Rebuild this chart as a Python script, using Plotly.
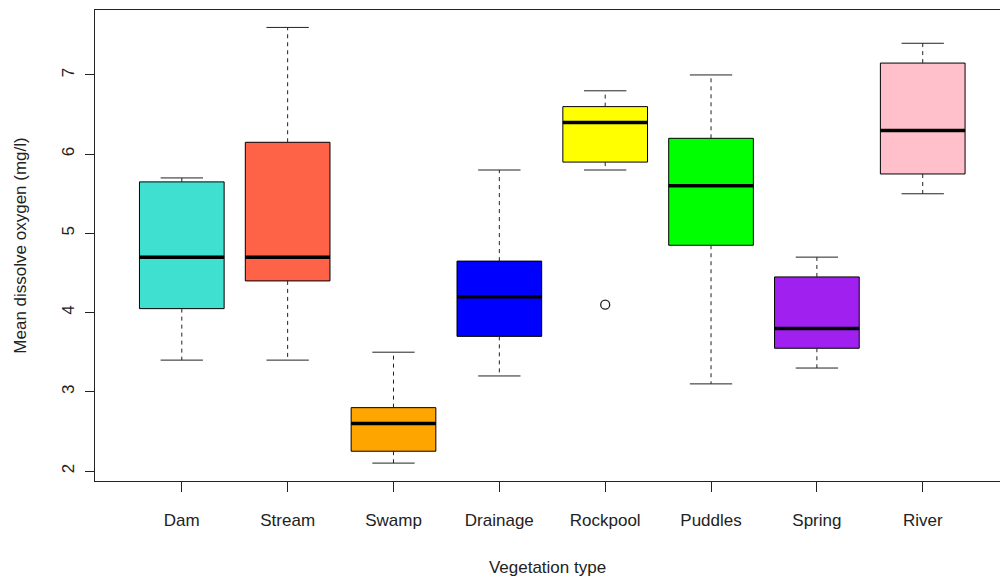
import plotly.graph_objects as go

# Summary statistics of mean dissolved oxygen (mg/l) per vegetation type
categories = ["Dam", "Stream", "Swamp", "Drainage", "Rockpool", "Puddles", "Spring", "River"]
lower_whisker = [3.4, 3.4, 2.1, 3.2, 5.8, 3.1, 3.3, 5.5]
q1_values = [4.05, 4.4, 2.25, 3.7, 5.9, 4.85, 3.55, 5.75]
medians = [4.7, 4.7, 2.6, 4.2, 6.4, 5.6, 3.8, 6.3]
q3_values = [5.65, 6.15, 2.8, 4.65, 6.6, 6.2, 4.45, 7.15]
upper_whisker = [5.7, 7.6, 3.5, 5.8, 6.8, 7.0, 4.7, 7.4]
outlier_groups = ["Rockpool"]
outlier_values = [4.1]
box_colors = ["#40E0D0", "#FF6347", "#FFA500", "#0000FF",
              "#FFFF00", "#00FF00", "#A020F0", "#FFC0CB"]

positions = list(range(1, len(categories) + 1))
BOX_W = 0.8
CAP_W = 0.4
FONT = "Liberation Sans, Arial, sans-serif"

fig = go.Figure()

# Box bodies (whiskers are drawn separately as dashed lines)
for pos, q1, med, q3, col in zip(positions, q1_values, medians, q3_values, box_colors):
    fig.add_trace(go.Box(
        x=[pos], q1=[q1], median=[med], q3=[q3],
        lowerfence=[q1], upperfence=[q3],
        width=BOX_W, whiskerwidth=0, fillcolor=col,
        line=dict(color="black", width=1),
        hoverinfo="skip", showlegend=False,
    ))

# Dashed whiskers
wx, wy = [], []
for pos, lo, q1, q3, hi in zip(positions, lower_whisker, q1_values, q3_values, upper_whisker):
    wx += [pos, pos, None, pos, pos, None]
    wy += [q3, hi, None, q1, lo, None]
fig.add_trace(go.Scatter(x=wx, y=wy, mode="lines",
                         line=dict(color="#222222", width=1, dash="4px,4px"),
                         hoverinfo="skip", showlegend=False))

# Whisker caps
cx, cy = [], []
for pos, lo, hi in zip(positions, lower_whisker, upper_whisker):
    cx += [pos - CAP_W / 2, pos + CAP_W / 2, None, pos - CAP_W / 2, pos + CAP_W / 2, None]
    cy += [hi, hi, None, lo, lo, None]
fig.add_trace(go.Scatter(x=cx, y=cy, mode="lines",
                         line=dict(color="#222222", width=1),
                         hoverinfo="skip", showlegend=False))

# Thick median lines
mx, my = [], []
for pos, med in zip(positions, medians):
    mx += [pos - BOX_W / 2, pos + BOX_W / 2, None]
    my += [med, med, None]
fig.add_trace(go.Scatter(x=mx, y=my, mode="lines",
                         line=dict(color="black", width=3.5),
                         hoverinfo="skip", showlegend=False))

# Outliers
ox = [positions[categories.index(g)] for g in outlier_groups]
fig.add_trace(go.Scatter(x=ox, y=outlier_values, mode="markers",
                         marker=dict(symbol="circle-open", size=9, color="#222222",
                                     line=dict(color="#222222", width=1.3)),
                         hoverinfo="skip", showlegend=False))

fig.update_layout(
    width=1000, height=579,
    margin=dict(l=95, r=0, t=10, b=98),
    paper_bgcolor="white", plot_bgcolor="white",
    font=dict(family=FONT, size=17, color="#222222"),
    showlegend=False,
    xaxis=dict(
        range=[0.18, 8.73], tickmode="array", tickvals=positions, ticktext=categories,
        showgrid=False, zeroline=False,
        showline=True, linecolor="#222222", linewidth=1, mirror=True,
        ticks="outside", ticklen=10, tickcolor="#222222", tickwidth=1,
        ticklabelstandoff=14,
        title=dict(text="Vegetation type", font=dict(size=17), standoff=31),
    ),
    yaxis=dict(
        range=[1.874, 7.82], tickmode="array", tickvals=[2, 3, 4, 5, 6, 7],
        ticktext=["2", "3", "4", "5", "6", "7"], tickangle=-90,
        showgrid=False, zeroline=False,
        showline=True, linecolor="#222222", linewidth=1,
        ticks="outside", ticklen=9, tickcolor="#222222", tickwidth=1,
        ticklabelstandoff=4,
        title=dict(text="Mean dissolve oxygen (mg/l)", font=dict(size=17), standoff=28),
    ),
)

fig.write_html("out.html")
